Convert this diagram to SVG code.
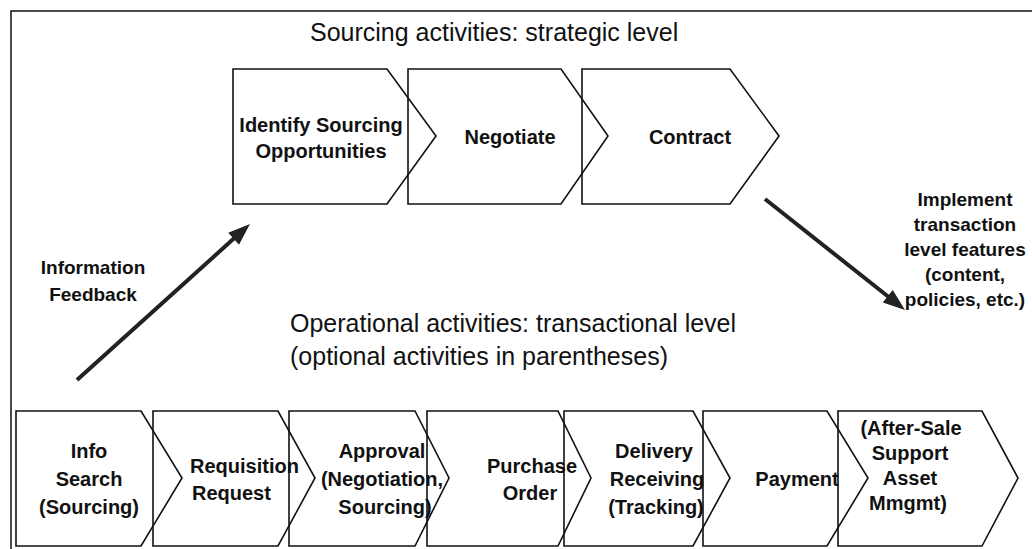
<svg xmlns="http://www.w3.org/2000/svg" width="1032" height="549" viewBox="0 0 1032 549">
<defs>
<style>
.frame{fill:none;stroke:#111;stroke-width:1.5}
.chev{fill:none;stroke:#111;stroke-width:1.6;stroke-linejoin:miter}
.title{font-family:"Liberation Sans",Arial,sans-serif;font-size:25px;fill:#111}
.lbl{font-family:"Liberation Sans",Arial,sans-serif;font-size:20px;font-weight:bold;fill:#111;text-anchor:middle}
.side{font-family:"Liberation Sans",Arial,sans-serif;font-size:19px;font-weight:bold;fill:#111;text-anchor:middle}
.arr{stroke:#222;stroke-width:4;fill:none}
</style>
<marker id="ah" markerUnits="userSpaceOnUse" markerWidth="30" markerHeight="24" refX="4" refY="0" viewBox="-2 -12 28 24" orient="auto">
<path d="M0,-8 L22,0 L0,8 z" fill="#222"/>
</marker>
</defs>
<rect width="1032" height="549" fill="#fff"/>
<rect class="frame" x="11" y="11" width="1040" height="560"/>

<text class="title" x="310" y="41">Sourcing activities: strategic level</text>
<text class="title" x="290" y="332">Operational activities: transactional level</text>
<text class="title" x="290" y="365">(optional activities in parentheses)</text>

<g id="identify">
<polygon class="chev" points="233,69 387,69 436,136 387,204 233,204"/>
<text class="lbl" x="321" y="132">Identify Sourcing</text>
<text class="lbl" x="321" y="158">Opportunities</text>
</g>
<g id="negotiate">
<polygon class="chev" points="408,69 561,69 608,136 561,204 408,204"/>
<text class="lbl" x="510" y="144">Negotiate</text>
</g>
<g id="contract">
<polygon class="chev" points="582,69 730,69 779,136 730,204 582,204"/>
<text class="lbl" x="690" y="144">Contract</text>
</g>

<g id="info-search">
<polygon class="chev" points="16,411 141,411 182,478 141,546 16,546"/>
<text class="lbl" x="89" y="458">Info</text>
<text class="lbl" x="89" y="486">Search</text>
<text class="lbl" x="89" y="514">(Sourcing)</text>
</g>
<g id="requisition">
<polygon class="chev" points="153,411 278,411 315,478 278,546 153,546"/>
<text class="lbl" x="190" y="473" style="text-anchor:start">Requisition</text>
<text class="lbl" x="192" y="500" style="text-anchor:start">Request</text>
</g>
<g id="approval">
<polygon class="chev" points="289,411 415,411 449,478 415,546 289,546"/>
<text class="lbl" x="382" y="458">Approval</text>
<text class="lbl" x="382" y="486">(Negotiation,</text>
<text class="lbl" x="385" y="514">Sourcing)</text>
</g>
<g id="purchase-order">
<polygon class="chev" points="427,411 558,411 591,478 558,546 427,546"/>
<text class="lbl" x="532" y="473">Purchase</text>
<text class="lbl" x="530" y="500">Order</text>
</g>
<g id="delivery">
<polygon class="chev" points="564,411 693,411 730,478 693,546 564,546"/>
<text class="lbl" x="654" y="458">Delivery</text>
<text class="lbl" x="657" y="486">Receiving</text>
<text class="lbl" x="656" y="514">(Tracking)</text>
</g>
<g id="payment">
<polygon class="chev" points="703,411 827,411 868,478 827,546 703,546"/>
<text class="lbl" x="797" y="486">Payment</text>
</g>
<g id="after-sale">
<polygon class="chev" points="838,411 982,411 1018,478 982,546 838,546"/>
<text class="lbl" x="911" y="435">(After-Sale</text>
<text class="lbl" x="910" y="460">Support</text>
<text class="lbl" x="910" y="485">Asset</text>
<text class="lbl" x="908" y="510">Mmgmt)</text>
</g>

<g id="connectors">
<line class="arr" x1="77" y1="380" x2="236.6" y2="236.1" marker-end="url(#ah)"/>
<line class="arr" x1="765" y1="199" x2="890.9" y2="298.8" marker-end="url(#ah)"/>
</g>

<g id="labels">
<text class="side" x="93" y="274">Information</text>
<text class="side" x="93" y="301">Feedback</text>
<text class="side" x="965" y="206">Implement</text>
<text class="side" x="965" y="231">transaction</text>
<text class="side" x="965" y="256">level features</text>
<text class="side" x="965" y="281">(content,</text>
<text class="side" x="965" y="306">policies, etc.)</text>
</g>
</svg>
